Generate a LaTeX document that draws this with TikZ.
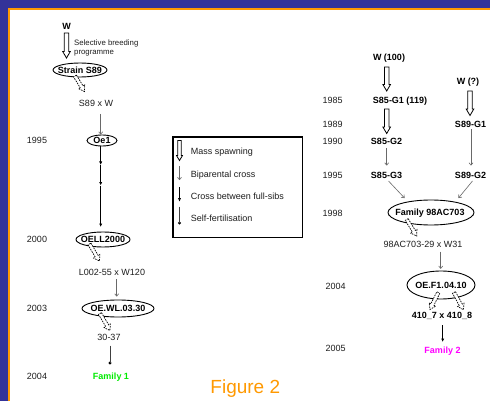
\documentclass[tikz,border=0pt]{standalone}
\usepackage{fontspec}
\setmainfont{Liberation Sans}
\usetikzlibrary{calc,arrows.meta,shapes.geometric}
\definecolor{frameblue}{RGB}{51,51,153}
\definecolor{frameorange}{RGB}{255,153,0}
\definecolor{famgreen}{RGB}{0,235,0}
\definecolor{fammag}{RGB}{255,0,255}
\definecolor{txt}{RGB}{30,30,30}
\definecolor{bip}{RGB}{105,105,105}
\newcommand\hollowarr[6]{%
  \coordinate (haQ) at ($(#3)!#6!(#2)$);
  \draw[#1] ($(#2)!#4!90:(#3)$) -- ($(haQ)!#4!-90:(#2)$) -- ($(haQ)!#5!-90:(#2)$) -- (#3)
    -- ($(haQ)!#5!90:(#2)$) -- ($(haQ)!#4!90:(#2)$) -- ($(#2)!#4!-90:(#3)$) -- cycle;}
\newcommand\massarrow[2]{\hollowarr{massarr}{#1}{#2}{2.2pt}{3.8pt}{6.5pt}}
\newcommand\dasharrow[2]{\hollowarr{dasharr}{#1}{#2}{1.7pt}{3.6pt}{5.5pt}}
\begin{document}
\begin{tikzpicture}[x=1pt,y=-1pt,
  lbl/.style={font=\fontsize{9}{10}\selectfont, text=txt, inner sep=0pt, anchor=base},
  bl/.style={font=\fontsize{9}{10}\selectfont\bfseries, inner sep=0pt, anchor=base},
  oval/.style={ellipse, draw, line width=0.9pt, inner sep=0pt},
  biparrow/.style={draw=bip, line width=0.6pt, -{To[length=3pt,width=4.5pt]}},
  sibarrow/.style={draw=black, line width=0.8pt, -{Latex[length=3.5pt,width=3.2pt]}},
  selfline/.style={draw=black!75, line width=0.8pt},
  selfdot/.style={circle, fill=black, inner sep=0pt, minimum size=3.4pt},
  massarr/.style={draw, line width=0.8pt, fill=white},
  dasharr/.style={draw, line width=0.7pt, dash pattern=on 1.6pt off 1pt, fill=white},
]
\useasboundingbox (0,0) rectangle (490,401);
% frame
\fill[frameblue] (0,0) rectangle (490,401);
\fill[white] (9,9) rectangle (490,401);
\draw[frameorange, line width=2pt] (9,401) -- (9,9) -- (490,9);

% ---------- left column ----------
\node[bl] (w1) at (66.5,29.5) {W};
\node[lbl, font=\fontsize{7.8}{9}\selectfont, anchor=base west] (sel1) at (74,45.5) {Selective breeding};
\node[lbl, font=\fontsize{7.8}{9}\selectfont, anchor=base west] (sel2) at (74,54.5) {programme};
\coordinate (m1s) at (66.5,33); \coordinate (m1e) at (66.5,58);
\massarrow{m1s}{m1e}
\node[oval, minimum width=54pt, minimum height=14pt] (s89) at (80,70) {};
\node[bl] at (80,73.2) {Strain S89};
\coordinate (d1s) at (75,76); \coordinate (d1e) at (84.5,91.5);
\dasharrow{d1s}{d1e}
\node[lbl] (x1) at (96,106.7) {S89 x W};
\node[oval, minimum width=30pt, minimum height=11pt] (oe1) at (102,140.5) {};
\node[bl] at (102,143.7) {Oe1};
\node[lbl] (y1995a) at (37,143) {1995};
\coordinate (a1s) at (100.7,114);
\draw[biparrow] (a1s) -- (a1s |- oe1.north);
\coordinate (c1) at (100.7,165); \coordinate (c2) at (100.7,185.5);
\node[oval, minimum width=54pt, minimum height=15pt] (oell) at (103,239.5) {};
\node[bl] at (103,242.7) {OELL2000};
\node[lbl] (y2000) at (37,242.5) {2000};
\draw[sibarrow] (oe1.south -| c1) -- (c1);
\draw[sibarrow] (c1) -- (c2);
\draw[sibarrow] (c2) -- (100.7,227);
\coordinate (d2s) at (89.5,244); \coordinate (d2e) at (99.5,261);
\dasharrow{d2s}{d2e}
\node[lbl] (x2) at (112,275.5) {L002-55 x W120};
\node[oval, minimum width=72pt, minimum height=17pt] (oewl) at (118,308.5) {};
\node[bl] at (118,311.7) {OE.WL.03.30};
\node[lbl] (y2003) at (37,311.5) {2003};
\coordinate (a2s) at (116.7,279);
\draw[biparrow] (a2s) -- (116.7,296.5);
\coordinate (d3s) at (100,313.5); \coordinate (d3e) at (110,330.5);
\dasharrow{d3s}{d3e}
\node[lbl] (x3) at (109,340.7) {30-37};
\coordinate (f1top) at (110,345.5);
\node[selfdot] (sd1) at (110,363) {};
\draw[selfline] (f1top) -- (sd1.center);
\node[bl, text=famgreen] (fam1) at (111,379.5) {Family 1};
\node[lbl] (y2004a) at (37,379.5) {2004};

% ---------- legend ----------
\draw[line width=1.8pt] (173,137) rectangle (302.5,237.5);
\coordinate (lm1) at (179.5,140.5); \coordinate (lm2) at (179.5,160.5);
\hollowarr{massarr}{lm1}{lm2}{1.7pt}{3pt}{5pt}
\node[lbl, anchor=base west] (lg1) at (190.7,155) {Mass spawning};
\draw[biparrow] (179.5,166.5) -- (179.5,180);
\node[lbl, anchor=base west] (lg2) at (190.7,177) {Biparental cross};
\draw[sibarrow] (179.5,187) -- (179.5,201.7);
\node[lbl, anchor=base west] (lg3) at (190.7,199.5) {Cross between full-sibs};
\node[selfdot] (lsd) at (179.5,223) {};
\draw[selfline] (179.5,206.7) -- (lsd.center);
\node[lbl, anchor=base west] (lg4) at (190.7,221.5) {Self-fertilisation};

% ---------- right column ----------
\node[bl] (w100) at (389,61) {W (100)};
\coordinate (m2s) at (386.7,67); \coordinate (m2e) at (386.7,91);
\massarrow{m2s}{m2e}
\node[lbl] (y1985) at (332.7,103.3) {1985};
\node[bl] (g1) at (400,103.3) {S85-G1 (119)};
\coordinate (m3s) at (386.7,109); \coordinate (m3e) at (386.7,133.5);
\massarrow{m3s}{m3e}
\node[bl] (wq) at (468,85) {W (?)};
\coordinate (m4s) at (470,91); \coordinate (m4e) at (470,115.5);
\massarrow{m4s}{m4e}
\node[lbl] (y1989) at (332.7,127.3) {1989};
\node[bl] (s89g1) at (470.5,127.3) {S89-G1};
\node[lbl] (y1990) at (332.7,145) {1990};
\node[bl] (g2) at (386.5,145) {S85-G2};
\draw[biparrow] (386.7,148) -- (386.7,165.5);
\draw[biparrow] (471,129.5) -- (471,165.5);
\node[lbl] (y1995b) at (332.7,178.3) {1995};
\node[bl] (g3) at (386.5,178.3) {S85-G3};
\node[bl] (s89g2) at (470.5,178.3) {S89-G2};
\node[oval, minimum width=86pt, minimum height=25pt] (fam98) at (431,212.5) {};
\node[bl] at (430,215.7) {Family 98AC703};
\draw[biparrow] (388.5,181) -- (404.5,198);
\draw[biparrow] (472.5,181) -- (458.5,198);
\node[lbl] (y1998) at (332.7,216.3) {1998};
\coordinate (d4s) at (406.7,219.5); \coordinate (d4e) at (416.7,236);
\dasharrow{d4s}{d4e}
\node[lbl] (x4) at (423,247.7) {98AC703-29 x W31};
\draw[biparrow] (440.7,251.7) -- (440.7,268.8);
\node[oval, minimum width=68pt, minimum height=28pt] (oef1) at (441,285) {};
\node[bl] at (441,288.2) {OE.F1.04.10};
\node[lbl] (y2004b) at (335.7,289.2) {2004};
\coordinate (d5s) at (438.3,292.5); \coordinate (d5e) at (430,309.5);
\dasharrow{d5s}{d5e}
\coordinate (d6s) at (454,292.5); \coordinate (d6e) at (463.5,309.7);
\dasharrow{d6s}{d6e}
\node[bl] (x5) at (442,318.3) {410\_7 x 410\_8};
\draw[sibarrow] (442.7,325) -- (442.7,342);
\node[bl, text=fammag] (fam2) at (442.5,353.3) {Family 2};
\node[lbl] (y2005) at (335.7,351.5) {2005};

% caption
\node[font=\fontsize{19}{22}\selectfont, text=frameorange, inner sep=0pt, anchor=base] (fig) at (245.3,393.5) {Figure 2};
\end{tikzpicture}
\end{document}
